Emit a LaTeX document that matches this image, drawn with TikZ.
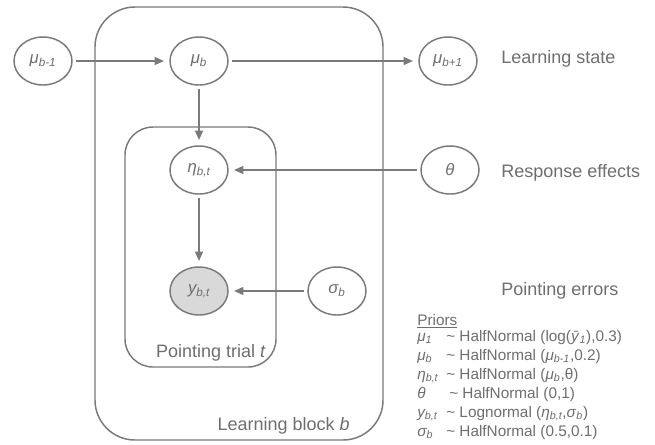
\documentclass[tikz,border=0pt]{standalone}
\usepackage{fontspec}
\setmainfont{Liberation Sans}
\usetikzlibrary{arrows.meta,shapes.geometric}
\definecolor{ln}{HTML}{7A7A7A}
\definecolor{tx}{HTML}{6E6E6E}
\definecolor{obs}{HTML}{D9D9D9}
\newcommand\sbs[1]{\textsubscript{\itshape #1}}
\begin{document}
\begin{tikzpicture}[x=0.75pt,y=-0.75pt,
  var/.style={ellipse,draw=ln,line width=1.1pt,minimum width=43.5pt,minimum height=36pt,inner sep=0pt,text=tx,font=\fontsize{12.5pt}{14pt}\selectfont\itshape},
  obsvar/.style={var,fill=obs},
  edge/.style={draw=ln,line width=1.1pt,-{Triangle[length=7pt,width=6pt]},shorten >=4pt,shorten <=2.5pt},
  plate/.style={draw=ln,line width=1.1pt},
  lab/.style={text=tx,font=\fontsize{13.5pt}{16pt}\selectfont,anchor=base west,inner sep=0pt},
  platelab/.style={text=tx,font=\fontsize{13.5pt}{16pt}\selectfont,anchor=base east,inner sep=0pt},
  prior/.style={text=tx,font=\fontsize{11.5pt}{14pt}\selectfont,anchor=base west,inner sep=0pt},
  priorsym/.style={prior,font=\fontsize{11.5pt}{14pt}\selectfont\itshape}]
\useasboundingbox (0,0) rectangle (655,444);
% plates
\draw[plate,rounded corners=30pt] (95,7) rectangle (383,440);
\draw[plate,rounded corners=21pt] (125,127) rectangle (276,367);
% variables
\node[var] (mum) at (43,61) {μ\sbs{b-1}};
\node[var] (mu) at (199,61) {μ\sbs{b}};
\node[var] (mup) at (448,61) {μ\sbs{b+1}};
\node[var] (eta) at (199,170) {η\sbs{b,t}};
\node[var] (th) at (450,170) {θ};
\node[obsvar] (y) at (199,291) {y\sbs{b,t}};
\node[var] (sig) at (337,291) {σ\sbs{b}};
% edges
\draw[edge] (mum) -- (mu);
\draw[edge] (mu) -- (mup);
\draw[edge] (mu) -- (eta);
\draw[edge] (th) -- (eta);
\draw[edge] (eta) -- (y);
\draw[edge] (sig) -- (y);
% plate labels
\node[platelab] (ptl) at (266,357) {Pointing trial \textit{t}};
\node[platelab] (lbl) at (350,430) {Learning block \textit{b}};
% side labels
\node[lab] (ls) at (501,63) {Learning state};
\node[lab] (re) at (501,177) {Response effects};
\node[lab] (pe) at (501,295) {Pointing errors};
% priors
\node[prior] (ph) at (417,325) {\underline{Priors}};
\node[priorsym] (s1) at (417,341) {μ\sbs{1}};
\node[prior] (d1) at (446,341) {\textasciitilde{} HalfNormal (log(\textit{ȳ}\sbs{1}),0.3)};
\node[priorsym] (s2) at (417,360) {μ\sbs{b}};
\node[prior] (d2) at (446,360) {\textasciitilde{} HalfNormal (\textit{μ}\sbs{b-1},0.2)};
\node[priorsym] (s3) at (417,379) {η\sbs{b,t}};
\node[prior] (d3) at (446,379) {\textasciitilde{} HalfNormal (\textit{μ}\sbs{b},θ)};
\node[priorsym] (s4) at (417,398) {θ};
\node[prior] (d4) at (449,398) {\textasciitilde{} HalfNormal (0,1)};
\node[priorsym] (s5) at (417,417) {y\sbs{b,t}};
\node[prior] (d5) at (446,417) {\textasciitilde{} Lognormal (\textit{η}\sbs{b,t},\textit{σ}\sbs{b})};
\node[priorsym] (s6) at (417,436) {σ\sbs{b}};
\node[prior] (d6) at (446,436) {\textasciitilde{} HalfNormal (0.5,0.1)};
\end{tikzpicture}
\end{document}
